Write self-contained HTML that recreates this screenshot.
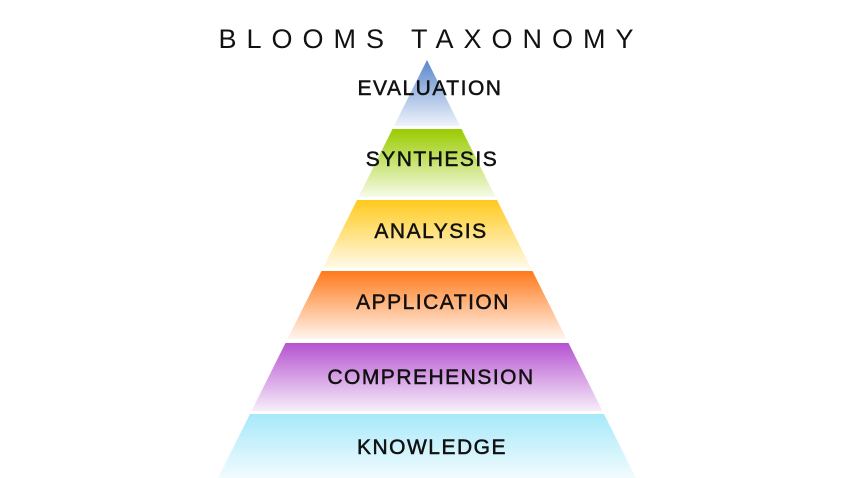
<!DOCTYPE html>
<html><head><style>body{margin:0;background:#fff}svg{display:block}</style></head><body>
<svg width="850" height="478" viewBox="0 0 850 478" xmlns="http://www.w3.org/2000/svg">
<defs>
<linearGradient id="g1" x1="0" y1="0" x2="0" y2="1"><stop offset="0" stop-color="#5a86cc"/><stop offset="1" stop-color="#eef3fb"/></linearGradient>
<linearGradient id="g2" x1="0" y1="0" x2="0" y2="1"><stop offset="0" stop-color="#9acb00"/><stop offset="1" stop-color="#f6fbe8"/></linearGradient>
<linearGradient id="g3" x1="0" y1="0" x2="0" y2="1"><stop offset="0" stop-color="#ffca1e"/><stop offset="1" stop-color="#fffaea"/></linearGradient>
<linearGradient id="g4" x1="0" y1="0" x2="0" y2="1"><stop offset="0" stop-color="#ff7a1c"/><stop offset="1" stop-color="#fff5ee"/></linearGradient>
<linearGradient id="g5" x1="0" y1="0" x2="0" y2="1"><stop offset="0" stop-color="#b552d0"/><stop offset="1" stop-color="#f7eefa"/></linearGradient>
<linearGradient id="g6" x1="0" y1="0" x2="0" y2="1"><stop offset="0" stop-color="#a6e9fa"/><stop offset="1" stop-color="#f2fbfe"/></linearGradient>
</defs>
<text x="431" y="48" text-anchor="middle" font-family="Liberation Sans, sans-serif" font-size="27" letter-spacing="10" fill="#111">BLOOMS TAXONOMY</text>
<polygon points="427,60 460,126 394,126" fill="url(#g1)"/>
<polygon points="392.5,129 461.5,129 495.5,197 358.5,197" fill="url(#g2)"/>
<polygon points="357,200 497,200 531,268 323,268" fill="url(#g3)"/>
<polygon points="321.5,271 532.5,271 566.5,339 287.5,339" fill="url(#g4)"/>
<polygon points="285.5,343 568.5,343 602.5,411 251.5,411" fill="url(#g5)"/>
<polygon points="250,414 604,414 636,478 218,478" fill="url(#g6)"/>
<g font-family="Liberation Sans, sans-serif" font-size="21" fill="#111" stroke="#111" stroke-width="0.5" text-anchor="middle" letter-spacing="1.5">
<text x="430" y="95">EVALUATION</text>
<text x="432" y="166">SYNTHESIS</text>
<text x="431" y="238">ANALYSIS</text>
<text x="433" y="309">APPLICATION</text>
<text x="431" y="384">COMPREHENSION</text>
<text x="432" y="454">KNOWLEDGE</text>
</g>
</svg>
</body></html>
